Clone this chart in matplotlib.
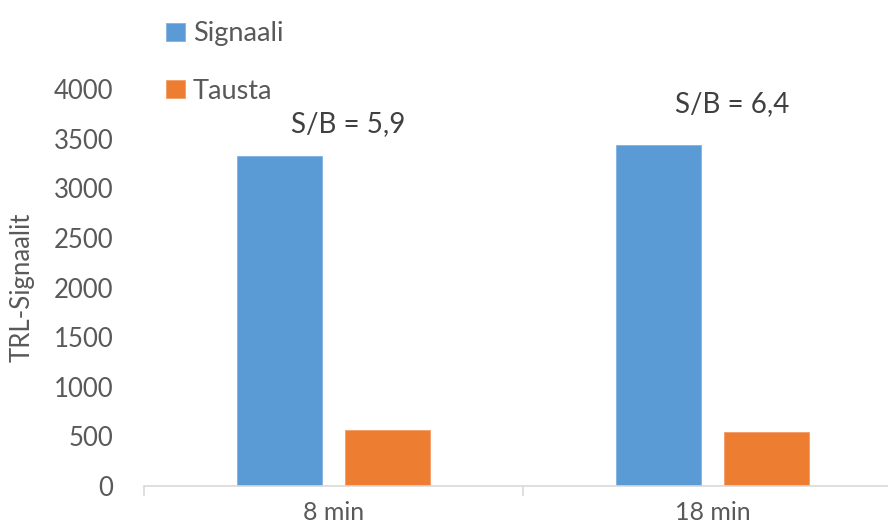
import matplotlib
matplotlib.use("Agg")
import matplotlib.pyplot as plt
import numpy as np

# Data
categories = ["8 min", "18 min"]
signaali = [3320, 3435]
tausta = [560, 540]
series_names = ["Signaali", "Tausta"]
y_ticks = [0, 500, 1000, 1500, 2000, 2500, 3000, 3500, 4000]

blue = "#5B9BD5"
orange = "#ED7D31"
text_gray = "#595959"
axis_gray = "#D9D9D9"

plt.rcParams["font.family"] = ["Lato", "DejaVu Sans"]

fig = plt.figure(figsize=(8.88, 5.30), dpi=100)
ax = fig.add_axes([144 / 888, 44 / 530, 758 / 888, 397 / 530])

x = np.arange(len(categories))
width = 0.222
offset = 0.1425
b1 = ax.bar(x - offset, signaali, width, color=blue, edgecolor="#7FB2E0",
            linewidth=0.6, label=series_names[0])
b2 = ax.bar(x + offset, tausta, width, color=orange, edgecolor="#F29B66",
            linewidth=0.6, label=series_names[1])

ax.set_xlim(-0.5, len(categories) - 0.5)
ax.set_ylim(0, 4000)
ax.set_yticks(y_ticks)
ax.set_yticklabels([str(t) for t in y_ticks])
ax.tick_params(axis="y", length=0, pad=22, labelsize=18.5, labelcolor=text_gray)

ax.set_xticks(x)
ax.set_xticklabels(categories)
ax.tick_params(axis="x", which="major", length=0, pad=11, labelsize=18,
               labelcolor=text_gray)
ax.set_xticks(np.arange(-0.5, len(categories), 1.0), minor=True)
ax.tick_params(axis="x", which="minor", length=7.5, width=1.2, color=axis_gray,
               direction="out")

for side in ["top", "right", "left"]:
    ax.spines[side].set_visible(False)
ax.spines["bottom"].set_color(axis_gray)
ax.spines["bottom"].set_linewidth(1.2)

ax.set_ylabel("TRL-Signaalit", fontsize=18.5, color=text_gray, labelpad=14)

# Signal-to-background ratio labels above each group
label_offsets = [(10.5, 23), (14, 29.5)]
for i, (s, t) in enumerate(zip(signaali, tausta)):
    ratio = f"{s / t:.1f}".replace(".", ",")
    ax.annotate(f"S/B = {ratio}", xy=(i, s), xytext=label_offsets[i],
                textcoords="offset points", ha="center", va="center",
                fontsize=20, color="#404040", annotation_clip=False)

leg = fig.legend(handles=[b1, b2], labels=series_names, loc="upper left",
                 bbox_to_anchor=(142 / 888, 1 + 3 / 530), frameon=False,
                 fontsize=19.5, handlelength=0.68, handleheight=0.68,
                 handletextpad=0.3, labelspacing=1.19, labelcolor=text_gray)

fig.savefig("out.png", dpi=100)
